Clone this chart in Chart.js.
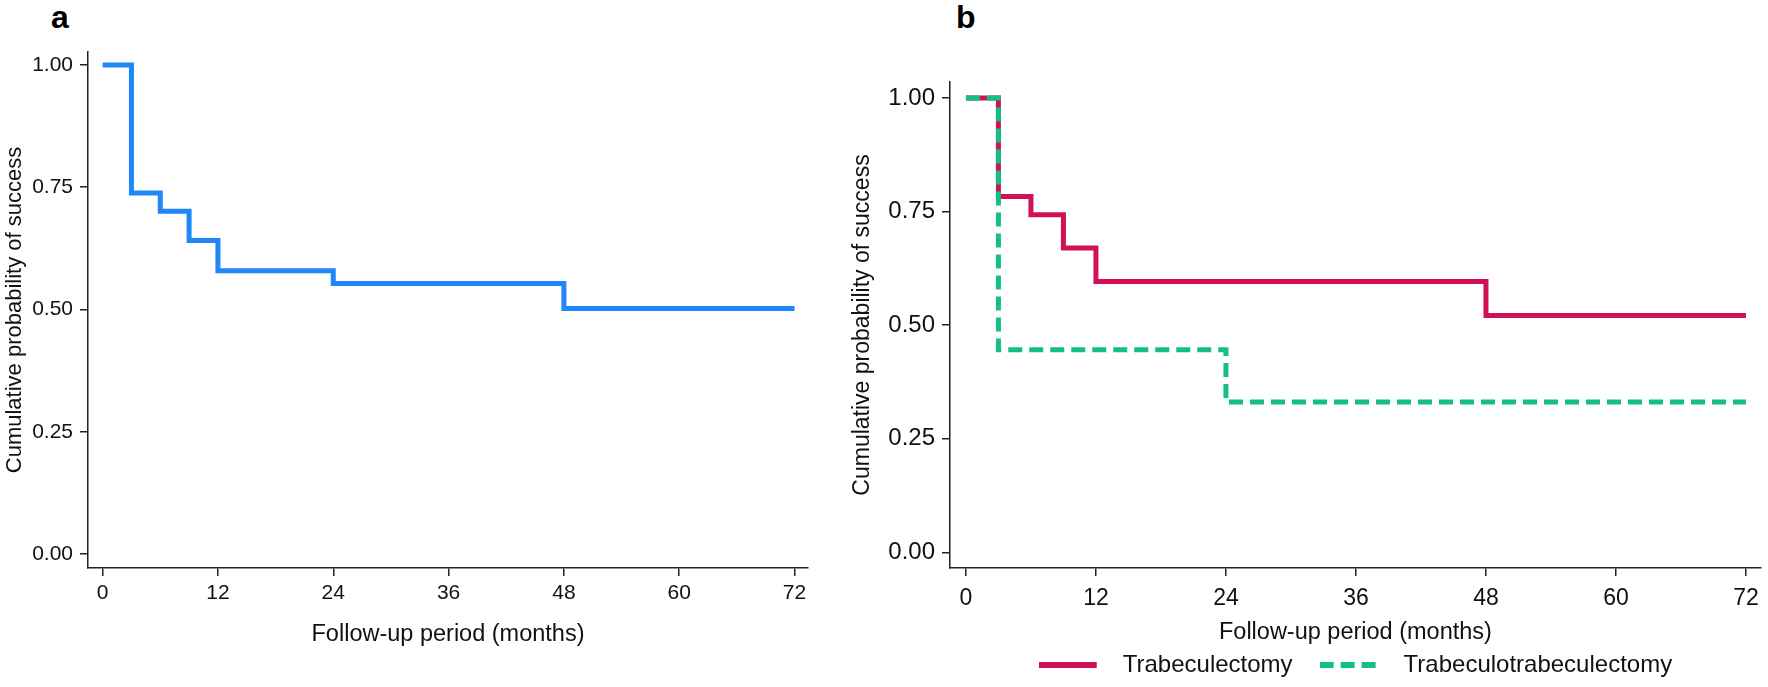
<!DOCTYPE html>
<html>
<head>
<meta charset="utf-8">
<script src="https://cdn.jsdelivr.net/npm/chart.js@4"></script>
<style>
  body { margin: 0; width: 1768px; height: 687px; overflow: hidden; background: #fff; position: relative; font-family: "Liberation Sans", Arial, sans-serif; }
  canvas { position: absolute; top: 0; }
  .panel { position: absolute; font-weight: bold; font-size: 32px; color: #000; line-height: 1; }
</style>
</head>
<body>
<div class="panel" style="left:51px; top:1px;">a</div>
<div class="panel" style="left:956px; top:1px;">b</div>
<canvas id="leftChart" width="830" height="687" style="left:0"></canvas>
<canvas id="rightChart" width="938" height="687" style="left:830px"></canvas>
<script>
// panel a: all eyes
const allMonths = [0, 3, 6, 9, 12, 24, 48, 72];
const allSurv = [1, 0.738, 0.701, 0.641, 0.579, 0.553, 0.502, 0.502];

// panel b: by procedure
const trabMonths = [0, 3, 6, 9, 12, 48, 72];
const trabSurv = [1, 0.783, 0.743, 0.670, 0.596, 0.521, 0.521];
const ttMonths = [0, 3, 24, 72];
const ttSurv = [1, 0.446, 0.331, 0.331];

const xTicks = [0, 12, 24, 36, 48, 60, 72];
const yTicks = [0, 0.25, 0.5, 0.75, 1];

const xTitle = "Follow-up period (months)";
const yTitle = "Cumulative probability of success";
const seriesNames = ["Trabeculectomy", "Trabeculotrabeculectomy"];

const FONT = "'Liberation Sans', Arial, sans-serif";
const AXIS = "#222";

const toPoints = (xs, ys) => xs.map((x, i) => ({ x: x, y: ys[i] }));

const makeAxes = (cfg) => {
  const grid = { drawOnChartArea: false, drawTicks: true, tickLength: 8, color: AXIS, tickColor: AXIS, lineWidth: 1.5 };
  const border = { display: true, color: AXIS, width: 1.5 };
  return {
    x: {
      type: "linear",
      min: cfg.xMin,
      max: cfg.xMax,
      grid: grid,
      border: border,
      afterBuildTicks: s => { s.ticks = xTicks.map(v => ({ value: v })); },
      afterFit: s => { s.height = cfg.xHeight; },
      ticks: { color: "#111", padding: cfg.xTickPad, maxRotation: 0, autoSkip: false, font: { family: FONT, size: cfg.xTickSize } },
      title: { display: true, text: xTitle, color: "#111", font: { family: FONT, size: cfg.xTitleSize }, padding: { top: 0, bottom: cfg.xTitlePad } },
    },
    y: {
      type: "linear",
      min: cfg.yMin,
      max: cfg.yMax,
      grid: grid,
      border: border,
      afterBuildTicks: s => { s.ticks = yTicks.map(v => ({ value: v })); },
      afterFit: s => { s.width = cfg.yWidth; },
      ticks: { color: "#111", padding: 7, font: { family: FONT, size: cfg.yTickSize }, callback: v => v.toFixed(2) },
      title: { display: true, text: yTitle, color: "#111", font: { family: FONT, size: cfg.yTitleSize }, padding: { top: cfg.yTitlePad, bottom: 0 } },
    },
  };
};

const stepLine = (label, data, color, dash, order) => ({
  label: label,
  data: data,
  borderColor: color,
  backgroundColor: color,
  borderWidth: 5,
  borderDash: dash,
  borderCapStyle: "butt",
  borderJoinStyle: "miter",
  stepped: true,
  pointRadius: 0,
  fill: false,
  order: order,
});

// legend key: 58px line sample plus empty room so the text sits further right
const legendKey = (color, dash) => {
  const c = document.createElement("canvas");
  c.width = 72;
  c.height = 8;
  const ctx = c.getContext("2d");
  ctx.strokeStyle = color;
  ctx.lineWidth = 6;
  ctx.setLineDash(dash);
  ctx.beginPath();
  ctx.moveTo(0, 4);
  ctx.lineTo(58, 4);
  ctx.stroke();
  return c;
};

const drawLeft = () => {
  new Chart(document.getElementById("leftChart"), {
    type: "line",
    data: { datasets: [stepLine("All", toPoints(allMonths, allSurv), "#1f87f7", [], 0)] },
    options: {
      responsive: false,
      animation: false,
      events: [],
      layout: { padding: { left: 0, top: 52, right: 22, bottom: 0 } },
      plugins: { legend: { display: false }, tooltip: { enabled: false } },
      scales: makeAxes({
        xMin: -1.52, xMax: 73.4, yMin: -0.0287, yMax: 1.0266,
        xHeight: 119, yWidth: 88,
        xTickPad: 4.4, xTickSize: 21, xTitleSize: 23.5, xTitlePad: 38,
        yTickSize: 21, yTitleSize: 22, yTitlePad: 1.8,
      }),
    },
  });
};

const drawRight = () => {
  const colors = ["#d1105a", "#14bf82"];
  const dashes = [[], [14, 7]];
  new Chart(document.getElementById("rightChart"), {
    type: "line",
    data: {
      datasets: [
        stepLine(seriesNames[0], toPoints(trabMonths, trabSurv), colors[0], dashes[0], 2),
        stepLine(seriesNames[1], toPoints(ttMonths, ttSurv), colors[1], dashes[1], 1),
      ],
    },
    options: {
      responsive: false,
      animation: false,
      events: [],
      layout: { padding: { left: 0, top: 82, right: 3, bottom: 0 } },
      plugins: {
        tooltip: { enabled: false },
        legend: {
          position: "bottom",
          fullSize: false,
          labels: {
            usePointStyle: true,
            pointStyleWidth: 72,
            padding: 27,
            color: "#111",
            font: { family: FONT, size: 24 },
            sort: (a, b) => a.datasetIndex - b.datasetIndex,
            generateLabels: chart => Chart.defaults.plugins.legend.labels.generateLabels(chart).map(item => {
              item.pointStyle = legendKey(colors[item.datasetIndex], dashes[item.datasetIndex]);
              return item;
            }),
          },
        },
      },
      scales: makeAxes({
        xMin: -1.47, xMax: 73.38, yMin: -0.0346, yMax: 1.0352,
        xHeight: 58, yWidth: 120,
        xTickPad: 9.2, xTickSize: 23, xTitleSize: 23.5, xTitlePad: -21,
        yTickSize: 24, yTitleSize: 23, yTitlePad: 19.2,
      }),
    },
  });
};

drawLeft();
drawRight();
</script>
</body>
</html>
